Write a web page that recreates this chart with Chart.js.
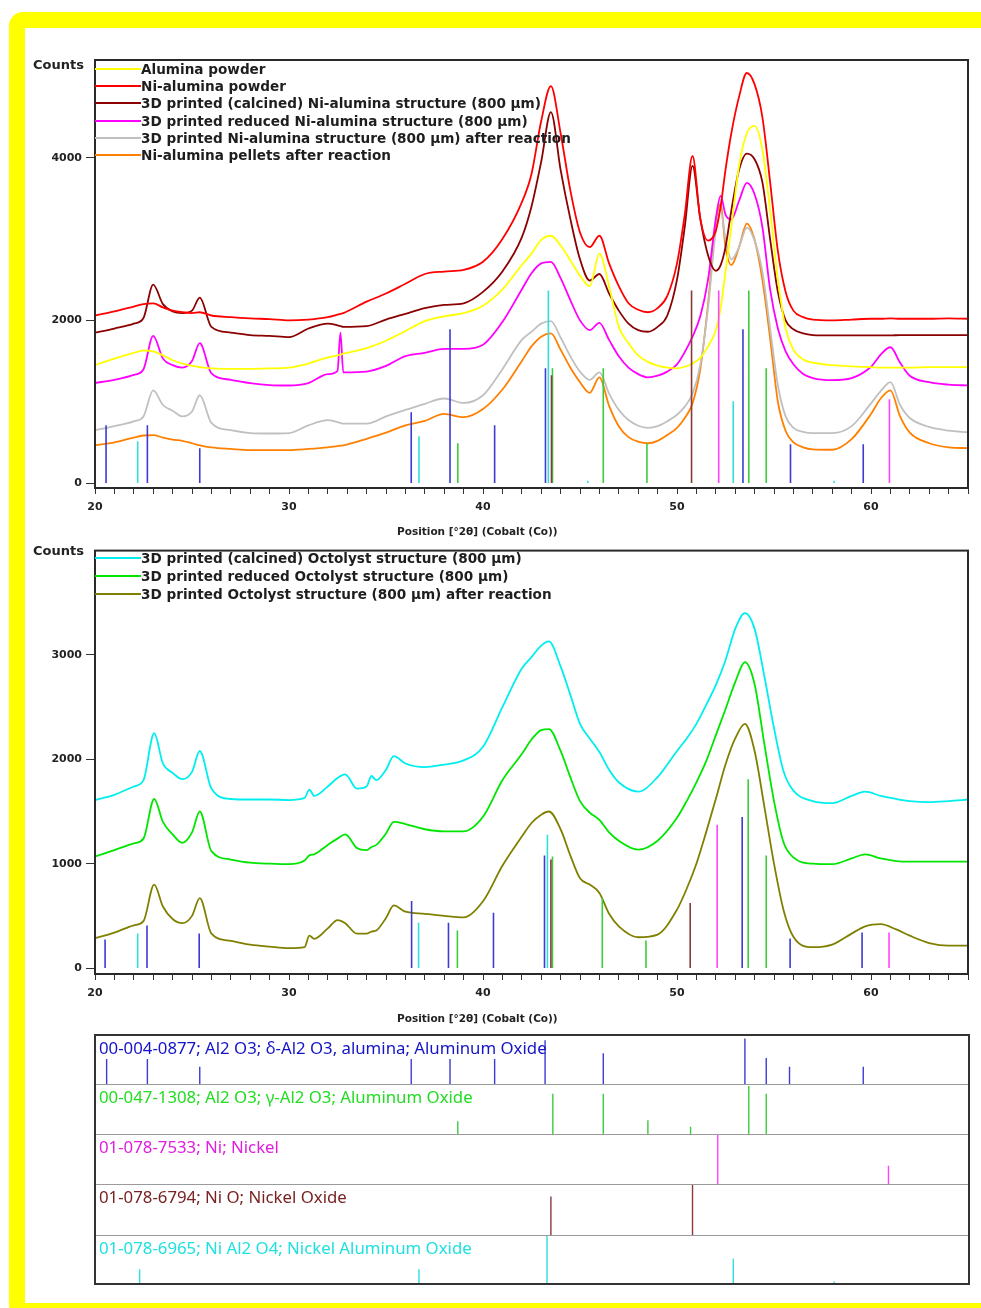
<!DOCTYPE html>
<html><head><meta charset="utf-8">
<script src="https://cdn.jsdelivr.net/npm/chart.js@4.4.1/dist/chart.umd.min.js"></script>
<style>
html,body{margin:0;padding:0;background:#fff;width:981px;height:1308px;overflow:hidden;position:relative;font-family:"DejaVu Sans",sans-serif;}
#yframe{position:absolute;left:9px;top:12px;width:1000px;height:1275px;border:16px solid #ffff00;border-radius:14px;}
canvas{position:absolute;}
.counts{position:absolute;left:33px;font-weight:bold;font-size:13px;line-height:14px;color:#222;}
.leg{position:absolute;left:95px;font-weight:bold;font-size:13.6px;color:#1e1e1e;white-space:nowrap;line-height:14px;}
.leg .ln{display:inline-block;width:46px;height:0;border-top:2px solid;vertical-align:middle;position:relative;top:-1px;}
.xt{position:absolute;left:397px;font-weight:bold;font-size:10.5px;line-height:14px;color:#222;white-space:nowrap;}
.ref{position:absolute;left:99px;font-family:"Noto Sans",sans-serif;font-size:16.8px;line-height:22px;white-space:nowrap;}
.box{position:absolute;left:94px;top:1034px;width:876px;height:251px;border:2px solid #333;box-sizing:border-box;}
.sep{position:absolute;left:96px;width:872px;height:0;border-top:1.5px solid #9a9a9a;}
</style></head>
<body>
<div id="yframe"></div>
<canvas id="top" width="981" height="500" style="left:0;top:40px"></canvas>
<canvas id="mid" width="981" height="490" style="left:0;top:540px"></canvas>
<div class="counts" style="top:58px">Counts</div>
<div class="counts" style="top:544px">Counts</div>
<div class="xt" style="top:524px">Position [°2θ] (Cobalt (Co))</div>
<div class="xt" style="top:1011px">Position [°2θ] (Cobalt (Co))</div>
<div id="legs"></div>
<div id="refs"></div>
<script>
// ---------- data ----------
const xTicks = [20,21,22,23,24,25,26,27,28,29,30,31,32,33,34,35,36,37,38,39,40,41,42,43,44,45,46,47,48,49,50,51,52,53,54,55,56,57,58,59,60,61,62,63,64,65];
const xLabels = [20,30,40,50,60];
const yTicksTop = [0,2000,4000];
const yTicksMid = [0,1000,2000,3000];

const tthTop = [20,21,22,22.5,23,23.5,24,24.5,25,25.4,
26,27,28,29,30,31,32,32.5,32.65,32.8,
34,35,36,37,38,39,40,41,42,42.5,
43,43.5,44,44.5,45,45.5,46,46.5,47,47.5,
48,48.5,49,49.5,50,50.4,50.8,51.2,51.6,52,
52.25,52.5,52.8,53.2,53.6,54,54.4,54.8,55.2,55.6,
56,56.5,57,58,59,60,60.5,61,61.5,62,
63,64,65];

const aluminaPowder = [1450,1530,1600,1630,1620,1570,1510,1470,1440,1425,
1410,1405,1405,1410,1420,1470,1545,1570,1580,1590,
1660,1750,1870,1990,2050,2090,2180,2380,2680,2820,
2990,3040,2920,2740,2550,2420,2820,2420,1920,1720,
1570,1490,1445,1420,1410,1430,1470,1540,1680,1880,
2150,2600,3150,3900,4300,4390,4100,3350,2500,1900,
1640,1520,1480,1450,1435,1425,1420,1420,1420,1420,
1425,1425,1425];

const niAluminaPowder = [2060,2110,2170,2200,2210,2160,2120,2100,2090,2100,
2060,2040,2025,2015,2000,2010,2040,2070,2080,2090,
2230,2330,2450,2570,2600,2620,2720,3000,3450,3800,
4450,4880,4300,3600,3080,2900,3040,2700,2420,2210,
2130,2100,2150,2300,2700,3300,4020,3250,2980,3100,
3400,3850,4300,4750,5040,4900,4500,3700,2850,2350,
2120,2040,2010,2000,2010,2020,2020,2025,2020,2020,
2020,2025,2020];

const calcinedNiStruct = [1850,1900,1960,2030,2440,2200,2110,2090,2120,2280,
1920,1850,1820,1810,1795,1900,1960,1940,1930,1920,
1930,2010,2080,2150,2190,2210,2350,2600,3020,3400,
3950,4560,3850,3250,2750,2490,2570,2330,2120,1960,
1880,1860,1920,2060,2500,3150,3900,3250,2800,2610,
2680,2900,3350,3850,4050,3980,3700,3000,2350,2000,
1890,1840,1820,1815,1815,1815,1815,1815,1820,1820,
1820,1820,1820];

const reducedNiStruct = [1230,1270,1330,1400,1810,1530,1450,1420,1500,1720,
1350,1270,1230,1205,1200,1230,1340,1380,1850,1360,
1370,1440,1560,1600,1650,1650,1700,1980,2380,2580,
2700,2720,2520,2250,2000,1880,1970,1760,1560,1420,
1340,1300,1320,1370,1460,1610,1800,2050,2500,3250,
3530,3300,3240,3470,3690,3550,3150,2380,1900,1620,
1460,1340,1290,1265,1290,1430,1580,1670,1480,1320,
1240,1210,1200];

const printedNiAfter = [650,700,760,820,1140,960,890,820,880,1080,
740,650,615,610,615,710,775,750,740,730,
730,820,900,975,1040,985,1080,1400,1760,1860,
1960,1990,1790,1560,1370,1270,1360,1100,900,775,
705,680,700,760,840,940,1100,1450,2150,3100,
3350,3000,2750,2900,3140,2980,2600,1900,1200,820,
680,630,615,615,700,980,1130,1240,960,800,
690,645,625];

const pelletsAfter = [465,500,560,585,590,560,535,520,490,465,
440,420,405,405,405,420,440,455,460,465,
545,620,710,765,850,810,910,1150,1500,1680,
1800,1840,1640,1420,1240,1110,1300,950,700,565,
510,490,520,590,680,800,980,1400,2200,3200,
3430,2900,2680,2900,3190,2990,2500,1780,1000,640,
500,440,415,410,540,850,1040,1140,820,620,
490,440,430];

const tthMid = [20,21,22,22.5,23.05,23.5,24,24.5,25,25.4,
26,27,28,29,30,30.8,31.05,31.3,32,32.5,
32.9,33.5,34,34.25,34.5,35,35.4,36,37,38,
39,40,41,42,42.5,43,43.4,44,44.5,45,
45.5,46,46.5,47,48,49,50,50.5,51,51.5,
52,52.5,53,53.5,54,54.5,55,55.5,56,57,
58,59,59.7,60.5,61.3,62,63,64,65];

const calcinedOcto = [1610,1660,1740,1800,2250,1960,1870,1810,1880,2080,
1720,1620,1615,1615,1610,1630,1710,1650,1740,1820,
1855,1720,1740,1840,1800,1900,2030,1960,1925,1950,
1990,2120,2500,2870,2980,3090,3130,2890,2620,2340,
2200,2070,1900,1780,1690,1830,2080,2200,2340,2520,
2710,2950,3250,3400,3250,2800,2300,1880,1700,1600,
1580,1650,1690,1650,1620,1600,1590,1600,1615];

const reducedOcto = [1070,1130,1195,1240,1620,1400,1280,1200,1300,1500,
1120,1040,1010,1000,995,1030,1080,1090,1180,1240,
1280,1150,1130,1160,1180,1290,1400,1380,1330,1310,
1310,1450,1800,2050,2190,2280,2290,2080,1830,1600,
1490,1420,1300,1220,1135,1220,1440,1600,1780,1980,
2230,2480,2740,2930,2720,2150,1600,1200,1060,1000,
995,1050,1090,1050,1025,1020,1020,1020,1020];

const octoAfter = [285,340,410,450,800,590,470,430,500,670,
330,260,225,205,190,200,310,280,380,460,
430,330,330,350,360,480,600,540,520,500,
485,640,980,1260,1390,1470,1500,1330,1080,860,
800,720,520,400,295,320,560,760,1000,1300,
1620,1950,2200,2340,2080,1550,1000,550,300,200,
225,330,400,420,370,310,240,215,215];

const topNames = ["Alumina powder","Ni-alumina powder","3D printed (calcined) Ni-alumina structure (800 µm)","3D printed reduced Ni-alumina structure (800 µm)","3D printed Ni-alumina structure (800 µm) after reaction","Ni-alumina pellets after reaction"];
const midNames = ["3D printed (calcined) Octolyst structure (800 µm)","3D printed reduced Octolyst structure (800 µm)","3D printed Octolyst structure (800 µm) after reaction"];

// reference sticks drawn in the scan panels: [2θ, counts]
const deltaTop = [[20.57,712],[22.7,712],[25.4,429],[36.3,871],[38.3,1890],[40.6,712],[43.22,1411],[53.4,1890],[55.85,479],[59.6,479]];
const gammaTop = [[38.7,491],[43.58,1411],[46.2,1411],[48.45,491],[53.7,2368],[54.6,1411]];
const nickelTop = [[52.15,2368],[60.95,1031]];
const nioTop = [[43.53,1325],[50.75,2368]];
const spinelTop = [[22.2,515],[36.7,577],[43.37,2368],[45.4,30],[52.9,1006],[58.1,30]];

const deltaMid = [[20.52,274],[22.68,407],[25.37,331],[36.32,643],[38.22,435],[40.54,530],[43.17,1079],[53.36,1448],[55.83,284],[59.54,341]];
const gammaMid = [[38.68,360],[43.58,1069],[46.15,672],[48.4,265],[53.67,1808],[54.6,1079]];
const nickelMid = [[52.07,1372],[60.93,341]];
const nioMid = [[43.5,1040],[50.68,624]];
const spinelMid = [[22.2,331],[36.68,435],[43.32,1277]];

// reference patterns panel: [2θ, relative height]
const refLabels = ["00-004-0877; Al2 O3; δ-Al2 O3, alumina; Aluminum Oxide","00-047-1308; Al2 O3; γ-Al2 O3; Aluminum Oxide","01-078-7533; Ni; Nickel","01-078-6794; Ni O; Nickel Oxide","01-078-6965; Ni Al2 O4; Nickel Aluminum Oxide"];
const deltaRef = [[20.6,0.52],[22.7,0.52],[25.4,0.36],[36.3,0.52],[38.3,0.52],[40.6,0.52],[43.2,0.91],[46.2,0.64],[53.5,0.95],[54.6,0.54],[55.8,0.36],[59.6,0.36]];
const gammaRef = [[38.7,0.26],[43.6,0.82],[46.2,0.82],[48.5,0.28],[50.7,0.15],[53.7,0.98],[54.6,0.82]];
const nickelRef = [[52.1,1.0],[60.9,0.37]];
const nioRef = [[43.5,0.77],[50.8,1.0]];
const spinelRef = [[22.3,0.29],[36.7,0.29],[43.3,1.0],[52.9,0.52],[58.1,0.03]];

// ---------- styles ----------
const topColors = ['#ffff00','#ff0000','#8b0000','#ff00ff','#c0c0c0','#ff8000'];
const midColors = ['#00eeee','#00e600','#808000'];
const stickColors = {delta:'#3c3cd2',gamma:'#3ccc3c',nickel:'#ff44ff',nio:'#8b3a3a',spinel:'#33dddd'};
const refTextColors = ['#1414c8','#22dd22','#e020e0','#7a2222','#20e0e0'];

Chart.defaults.font.family = '"DejaVu Sans", sans-serif';

const framePlugin = {
  id:'frame',
  afterDraw(chart){
    const {ctx, chartArea:a} = chart;
    ctx.save(); ctx.strokeStyle='#2a2a2a'; ctx.lineWidth=2;
    ctx.strokeRect(a.left, a.top, a.right-a.left, a.bottom-a.top);
    ctx.restore();
  }
};

function stickData(list){
  const d=[]; list.forEach(([x,h])=>{d.push({x,y:0},{x,y:h},{x,y:null});}); return d;
}

function mainChart(id, tth, series, colors, sticks, yMin, yMax, yTicks, padTop, xH){
  const ds = [];
  sticks.forEach(s=>ds.push({data:stickData(s[0]),borderColor:s[1],borderWidth:1.6,pointRadius:0,order:0,spanGaps:false}));
  series.forEach((s,i)=>ds.push({data:tth.map((x,j)=>({x,y:s[j]})),borderColor:colors[i],borderWidth:1.8,pointRadius:0,order:1+i,cubicInterpolationMode:'monotone'}));
  new Chart(document.getElementById(id),{
    type:'line',
    data:{datasets:ds},
    options:{
      responsive:false,animation:false,events:[],
      layout:{padding:{top:padTop,right:13,left:0,bottom:0}},
      plugins:{legend:{display:false},tooltip:{enabled:false}},
      scales:{
        x:{type:'linear',min:20,max:65,
          afterBuildTicks:s=>{s.ticks=xTicks.map(v=>({value:v}));},
          afterFit:s=>{s.height=xH;},
          grid:{drawOnChartArea:false,drawTicks:true,tickLength:6,color:'#333',lineWidth:1},
          border:{display:false},
          ticks:{autoSkip:false,maxRotation:0,minRotation:0,padding:7,color:'#222',font:{size:11,weight:'bold'},
            callback:v=>xLabels.includes(v)?String(v):''}},
        y:{type:'linear',min:yMin,max:yMax,
          afterBuildTicks:s=>{s.ticks=yTicks.map(v=>({value:v}));},
          afterFit:s=>{s.width=95;},
          grid:{drawOnChartArea:false,drawTicks:true,tickLength:9,color:'#333',lineWidth:1},
          border:{display:false},
          ticks:{padding:4,color:'#222',font:{size:11,weight:'bold'},callback:v=>String(v)}}
      }
    },
    plugins:[framePlugin]
  });
}

mainChart('top', tthTop,
  [aluminaPowder,niAluminaPowder,calcinedNiStruct,reducedNiStruct,printedNiAfter,pelletsAfter], topColors,
  [[spinelTop,stickColors.spinel],[nioTop,stickColors.nio],[nickelTop,stickColors.nickel],[gammaTop,stickColors.gamma],[deltaTop,stickColors.delta]],
  -60, 5200, yTicksTop, 20, 52);

mainChart('mid', tthMid,
  [calcinedOcto,reducedOcto,octoAfter], midColors,
  [[spinelMid,stickColors.spinel],[nioMid,stickColors.nio],[nickelMid,stickColors.nickel],[gammaMid,stickColors.gamma],[deltaMid,stickColors.delta]],
  -57, 4000, yTicksMid, 6, 56);

// legends
const legs = document.getElementById('legs');
function addLegend(names, colors, y0, dy){
  names.forEach((n,i)=>{
    const d=document.createElement('div'); d.className='leg'; d.style.top=(y0+i*dy-7)+'px';
    const l=document.createElement('span'); l.className='ln'; l.style.borderTopColor=colors[i];
    d.appendChild(l); d.appendChild(document.createTextNode(n)); legs.appendChild(d);
  });
}
addLegend(topNames, topColors, 69, 17.2);
addLegend(midNames, midColors, 558, 18);

// reference panel
const refs = document.getElementById('refs');
const rowEdges = [1035,1084,1134,1184,1235,1283];
const refSets = [deltaRef,gammaRef,nickelRef,nioRef,spinelRef];
const refStickColors = [stickColors.delta,stickColors.gamma,stickColors.nickel,stickColors.nio,stickColors.spinel];
refSets.forEach((set,r)=>{
  const c=document.createElement('canvas');
  const h=rowEdges[r+1]-rowEdges[r]-1;
  c.width=873; c.height=h; c.style.left='95px'; c.style.top=(rowEdges[r]+1)+'px';
  refs.appendChild(c);
  new Chart(c,{type:'line',
    data:{datasets:[{data:stickData(set),borderColor:refStickColors[r],borderWidth:1.4,pointRadius:0,spanGaps:false}]},
    options:{responsive:false,animation:false,events:[],layout:{padding:0},
      plugins:{legend:{display:false},tooltip:{enabled:false}},
      scales:{x:{type:'linear',min:20,max:65,display:false},y:{min:0,max:1,display:false}}}});
  const t=document.createElement('div'); t.className='ref'; t.style.top=(rowEdges[r]+2)+'px'; t.style.color=refTextColors[r];
  t.textContent=refLabels[r]; refs.appendChild(t);
  if(r>0){const s=document.createElement('div'); s.className='sep'; s.style.top=rowEdges[r]+'px'; refs.appendChild(s);}
});
const bx=document.createElement('div'); bx.className='box'; refs.appendChild(bx);
</script>
</body></html>
